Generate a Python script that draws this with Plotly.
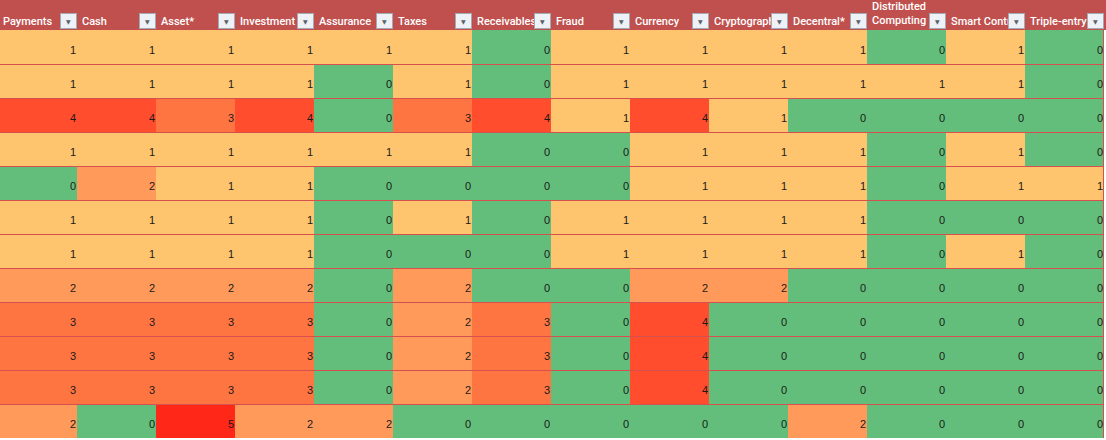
import plotly.graph_objects as go

columns = ["Payments", "Cash", "Asset*", "Investment", "Assurance", "Taxes", "Receivables",
           "Fraud", "Currency", "Cryptograph", "Decentral*", "Distributed<br>Computing",
           "Smart Contr", "Triple-entry"]

scores = [
    [1, 1, 1, 1, 1, 1, 0, 1, 1, 1, 1, 0, 1, 0],
    [1, 1, 1, 1, 0, 1, 0, 1, 1, 1, 1, 1, 1, 0],
    [4, 4, 3, 4, 0, 3, 4, 1, 4, 1, 0, 0, 0, 0],
    [1, 1, 1, 1, 1, 1, 0, 0, 1, 1, 1, 0, 1, 0],
    [0, 2, 1, 1, 0, 0, 0, 0, 1, 1, 1, 0, 1, 1],
    [1, 1, 1, 1, 0, 1, 0, 1, 1, 1, 1, 0, 0, 0],
    [1, 1, 1, 1, 0, 0, 0, 1, 1, 1, 1, 0, 1, 0],
    [2, 2, 2, 2, 0, 2, 0, 0, 2, 2, 0, 0, 0, 0],
    [3, 3, 3, 3, 0, 2, 3, 0, 4, 0, 0, 0, 0, 0],
    [3, 3, 3, 3, 0, 2, 3, 0, 4, 0, 0, 0, 0, 0],
    [3, 3, 3, 3, 0, 2, 3, 0, 4, 0, 0, 0, 0, 0],
    [2, 0, 5, 2, 2, 0, 0, 0, 0, 0, 2, 0, 0, 0],
]

# excel-ish conditional formatting colours for 0..5
level_colors = ["#63BE7B", "#FFC46E", "#FF9A5A", "#FF7542", "#FF4D2E", "#FF2818"]
HEADER = "#C0504D"
GRID = "#D65050"

n_rows = len(scores)
n_cols = len(columns)

W, H = 1106, 440
TOP, BOTTOM, LEFT, RIGHT = 30, 2, 0, 2
plot_w = W - LEFT - RIGHT
plot_h = H - TOP - BOTTOM
col_px = 79
row_px = plot_h / n_rows
x_lo = n_cols - 0.5 - plot_w / col_px

colorscale = [[i / 5, c] for i, c in enumerate(level_colors)]

fig = go.Figure()
fig.add_heatmap(
    z=scores, x=list(range(n_cols)), y=list(range(n_rows)),
    colorscale=colorscale, zmin=0, zmax=5, showscale=False, hoverinfo="skip",
)

tx, ty, tt = [], [], []
for r, row in enumerate(scores):
    for c, v in enumerate(row):
        tx.append(c + 0.5 - 1 / col_px)
        ty.append(r + 0.13)
        tt.append(str(v))
fig.add_scatter(
    x=tx, y=ty, text=tt, mode="text", textposition="middle left",
    textfont=dict(family="Liberation Sans", size=11, color="#1A1A1A"),
    hoverinfo="skip", showlegend=False,
)

# header band + row separators (half-pixel nudge keeps the 1px lines crisp)
shapes = [dict(type="rect", xref="paper", yref="paper", x0=0, x1=W / plot_w, y0=1, y1=1 + TOP / plot_h,
               fillcolor=HEADER, line_width=0, layer="below")]
for r in range(n_rows):
    yl = r + 0.5 + 0.5 / row_px
    shapes.append(dict(type="line", xref="paper", yref="y", x0=0, x1=1, y0=yl, y1=yl,
                       line=dict(color=GRID, width=1), layer="above"))
xr = n_cols - 0.5 - 0.5 / col_px
shapes.append(dict(type="line", xref="x", yref="paper", x0=xr, x1=xr, y0=0, y1=1,
                   line=dict(color=GRID, width=1), layer="above"))

annotations = []
for c, name in enumerate(columns):
    annotations.append(dict(
        x=c - 0.5 + 3 / col_px, xref="x", xanchor="left",
        y=1 + 0.5 / plot_h, yref="paper", yanchor="bottom",
        text=name, showarrow=False, align="left",
        font=dict(family="Roboto", size=11, color="white", weight=500),
    ))
    annotations.append(dict(
        x=c + 0.5, xref="x", xanchor="right",
        y=1 + 1 / plot_h, yref="paper", yanchor="bottom",
        text="▼", showarrow=False, width=15, height=14, borderpad=0, borderwidth=1,
        bgcolor="#EEF1F5", bordercolor="#A3AAB3",
        font=dict(family="DejaVu Sans", size=6, color="#59616B"),
    ))

fig.update_layout(
    width=W, height=H,
    margin=dict(l=LEFT, r=RIGHT, t=TOP, b=BOTTOM, pad=0),
    paper_bgcolor="white", plot_bgcolor="white",
    xaxis=dict(range=[x_lo, n_cols - 0.5], visible=False, fixedrange=True),
    yaxis=dict(range=[n_rows - 0.5, -0.5], visible=False, fixedrange=True),
    shapes=shapes, annotations=annotations, showlegend=False,
)

fig.write_html("out.html", config={"displayModeBar": False},
               post_script="document.body.style.margin='0';document.body.style.padding='0';")
